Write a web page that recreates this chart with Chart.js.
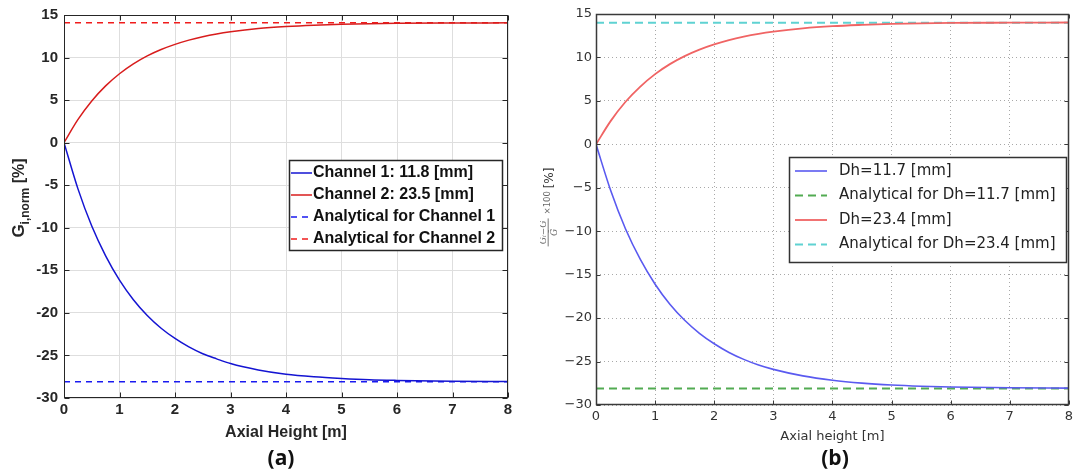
<!DOCTYPE html>
<html lang="en">
<head>
<meta charset="UTF-8" />
<title>Axial mass flux deviation</title>
<script src="https://cdn.jsdelivr.net/npm/chart.js@4.4.1/dist/chart.umd.min.js"></script>
<style>
body { margin: 0; background: #fff; }
#wrap { position: relative; width: 1077px; height: 469px; overflow: hidden; }
#chartA { position: absolute; left: 0; top: 0; }
#chartB { position: absolute; left: 540px; top: 0; }
.tag { position: absolute; top: 443px; font: bold 21px 'Open Sans', sans-serif; color: #111; transform: translateX(-50%); line-height: 28px; }
</style>
</head>
<body>
<div id="wrap">
  <canvas id="chartA" width="540" height="450"></canvas>
  <canvas id="chartB" width="537" height="450"></canvas>
  <div class="tag" style="left:281px">(a)</div>
  <div class="tag" style="left:835px">(b)</div>
</div>

<script>
// axial positions [m]
const heights = [0, 0.25, 0.5, 0.75, 1, 1.25, 1.5, 1.75, 2, 2.25, 2.5, 2.75, 3, 3.5, 4, 4.5, 5, 5.5, 6, 7, 8];

// (a) subchannel results [%]
const channel1 = [0, -5.4, -9.8, -13.3, -16.15, -18.45, -20.3, -21.8, -23.0, -24.0, -24.8, -25.4, -25.95, -26.7, -27.2, -27.5, -27.7, -27.85, -27.93, -28.03, -28.07];
const channel2 = [0, 2.7, 4.9, 6.67, 8.1, 9.26, 10.2, 10.95, 11.55, 12.05, 12.45, 12.77, 13.02, 13.4, 13.64, 13.8, 13.9, 13.97, 14.02, 14.06, 14.08];
const analyticalCh1 = -28.1;
const analyticalCh2 = 14.1;

// (b) hydraulic diameter results [%]
const dh117 = [0, -5.35, -9.75, -13.25, -16.1, -18.4, -20.25, -21.75, -22.95, -23.95, -24.75, -25.4, -25.9, -26.65, -27.15, -27.48, -27.7, -27.84, -27.93, -28.02, -28.06];
const dh234 = [0, 2.7, 4.9, 6.65, 8.08, 9.23, 10.15, 10.9, 11.5, 12.0, 12.4, 12.72, 12.97, 13.35, 13.6, 13.75, 13.86, 13.93, 13.97, 14.0, 14.02];
const analyticalDh117 = -28.1;
const analyticalDh234 = 14.0;

const xRange = [0, 8];
const yRange = [-30, 15];

const pts = (xs, ys) => xs.map((x, i) => ({ x, y: ys[i] }));
const flat = v => pts(xRange, [v, v]);

// box round the plot area with inward tick marks on every side
function frame(color, width, tickLen) {
  return {
    id: 'frame',
    afterDatasetsDraw(chart) {
      const { ctx, chartArea: a, scales: { x, y } } = chart;
      const l = Math.round(a.left) + 0.5, r = Math.round(a.right) - 0.5;
      const t = Math.round(a.top) + 0.5, b = Math.round(a.bottom) - 0.5;
      ctx.save();
      ctx.strokeStyle = color;
      ctx.lineWidth = 1;
      ctx.beginPath();
      x.ticks.forEach(tk => {
        const px = Math.round(x.getPixelForValue(tk.value)) + 0.5;
        ctx.moveTo(px, t); ctx.lineTo(px, t + tickLen);
        ctx.moveTo(px, b); ctx.lineTo(px, b - tickLen);
      });
      y.ticks.forEach(tk => {
        const py = Math.round(y.getPixelForValue(tk.value)) + 0.5;
        ctx.moveTo(l, py); ctx.lineTo(l + tickLen, py);
        ctx.moveTo(r, py); ctx.lineTo(r - tickLen, py);
      });
      ctx.stroke();
      ctx.lineWidth = width;
      ctx.strokeRect(l, t, r - l, b - t);
      ctx.restore();
    }
  };
}

// legend drawn inside the axes
function boxLegend(o) {
  return {
    id: 'boxLegend',
    afterDraw(chart) {
      const ctx = chart.ctx;
      ctx.save();
      ctx.fillStyle = '#fff';
      ctx.fillRect(o.x, o.y, o.w, o.h);
      ctx.strokeStyle = o.border;
      ctx.lineWidth = o.borderWidth;
      ctx.strokeRect(o.x + 0.5, o.y + 0.5, o.w, o.h);
      ctx.font = o.font;
      ctx.textBaseline = 'middle';
      chart.data.datasets.forEach((ds, i) => {
        const cy = o.y + o.first + i * o.gap;
        ctx.strokeStyle = ds.borderColor;
        ctx.lineWidth = ds.borderWidth;
        ctx.setLineDash(ds.borderDash || []);
        ctx.beginPath();
        ctx.moveTo(o.x + o.s0, cy);
        ctx.lineTo(o.x + o.s1, cy);
        ctx.stroke();
        ctx.setLineDash([]);
        ctx.fillStyle = o.color;
        ctx.fillText(ds.label, o.x + o.tx, cy);
      });
      ctx.restore();
    }
  };
}

// rotated y title made of runs: [text, font, baseline shift, colour, width?, painter?]
function runsTitle(cx, cy, runs) {
  return {
    id: 'runsTitle',
    afterDraw(chart) {
      const ctx = chart.ctx;
      ctx.save();
      ctx.translate(cx, cy);
      ctx.rotate(-Math.PI / 2);
      ctx.textBaseline = 'alphabetic';
      let total = 0;
      runs.forEach(r => { ctx.font = r[1]; total += r[4] !== undefined ? r[4] : ctx.measureText(r[0]).width; });
      let pos = -total / 2;
      runs.forEach(r => {
        ctx.font = r[1];
        ctx.fillStyle = r[3];
        const w = r[4] !== undefined ? r[4] : ctx.measureText(r[0]).width;
        if (r[5]) r[5](ctx, pos, w);
        else ctx.fillText(r[0], pos, r[2]);
        pos += w;
      });
      ctx.restore();
    }
  };
}

// ---------- (a) ----------
const fontA = "'Liberation Sans', Arial, sans-serif";
const inkA = '#262626';

new Chart(document.getElementById('chartA'), {
  type: 'line',
  data: {
    datasets: [
      { label: 'Channel 1: 11.8 [mm]', data: pts(heights, channel1), borderColor: '#1414d2', borderWidth: 1.5 },
      { label: 'Channel 2: 23.5 [mm]', data: pts(heights, channel2), borderColor: '#d81c1c', borderWidth: 1.5 },
      { label: 'Analytical for Channel 1', data: flat(analyticalCh1), borderColor: '#1a1af0', borderWidth: 1.5, borderDash: [6, 5] },
      { label: 'Analytical for Channel 2', data: flat(analyticalCh2), borderColor: '#f01c1c', borderWidth: 1.5, borderDash: [6, 5] }
    ]
  },
  options: {
    responsive: false,
    animation: false,
    events: [],
    parsing: false,
    elements: { point: { radius: 0 }, line: { cubicInterpolationMode: 'monotone' } },
    layout: { padding: { left: 0, right: 32, top: 14, bottom: 0 } },
    plugins: { legend: { display: false }, tooltip: { enabled: false } },
    scales: {
      x: {
        type: 'linear', min: xRange[0], max: xRange[1],
        afterFit(s) { s.height = 52; },
        grid: { color: '#dedede', drawTicks: false },
        border: { display: false },
        ticks: { stepSize: 1, padding: 3, color: inkA, font: { family: fontA, size: 15, weight: 'bold' } },
        title: { display: true, text: 'Axial Height [m]', color: inkA, padding: { top: 0, bottom: 8 }, font: { family: fontA, size: 16, weight: 'bold' } }
      },
      y: {
        min: yRange[0], max: yRange[1],
        afterFit(s) { s.width = 64; },
        grid: { color: '#dedede', drawTicks: false },
        border: { display: false },
        ticks: { stepSize: 5, padding: 6, color: inkA, font: { family: fontA, size: 15, weight: 'bold' } }
      }
    }
  },
  plugins: [
    frame(inkA, 1, 5),
    boxLegend({ x: 289, y: 160, w: 213, h: 90, first: 13, gap: 22, s0: 2, s1: 23, tx: 24,
      border: inkA, borderWidth: 1.5, color: '#111', font: `bold 16px ${fontA}` }),
    runsTitle(24, 198, [
      ['G', `bold 17px ${fontA}`, 0, inkA],
      ['i,norm', `bold 12px ${fontA}`, 5, inkA],
      [' [%]', `bold 16px ${fontA}`, 0, inkA]
    ])
  ]
});

// ---------- (b) ----------
const fontB = "'DejaVu Sans', sans-serif";
const inkB = '#333';
const minus = v => (v < 0 ? '\u2212' + Math.abs(v) : String(v));

new Chart(document.getElementById('chartB'), {
  type: 'line',
  data: {
    datasets: [
      { label: 'Dh=11.7 [mm]', data: pts(heights, dh117), borderColor: '#5a5af0', borderWidth: 1.6 },
      { label: 'Analytical for Dh=11.7 [mm]', data: flat(analyticalDh117), borderColor: '#52ab52', borderWidth: 2, borderDash: [8, 5] },
      { label: 'Dh=23.4 [mm]', data: pts(heights, dh234), borderColor: '#f06464', borderWidth: 1.8 },
      { label: 'Analytical for Dh=23.4 [mm]', data: flat(analyticalDh234), borderColor: '#5fd2d2', borderWidth: 2, borderDash: [8, 5] }
    ]
  },
  options: {
    responsive: false,
    animation: false,
    events: [],
    parsing: false,
    elements: { point: { radius: 0 }, line: { cubicInterpolationMode: 'monotone' } },
    layout: { padding: { left: 0, right: 5, top: 14, bottom: 0 } },
    plugins: { legend: { display: false }, tooltip: { enabled: false } },
    scales: {
      x: {
        type: 'linear', min: xRange[0], max: xRange[1],
        afterFit(s) { s.height = 45; },
        grid: { color: '#a8a8a8', drawTicks: false },
        border: { display: false, dash: [1, 3] },
        ticks: { stepSize: 1, padding: 4, color: inkB, font: { family: fontB, size: 13 } },
        title: { display: true, text: 'Axial height [m]', color: inkB, padding: { top: 0, bottom: 6 }, font: { family: fontB, size: 13 } }
      },
      y: {
        min: yRange[0], max: yRange[1],
        afterFit(s) { s.width = 56; },
        grid: { color: '#a8a8a8', drawTicks: false },
        border: { display: false, dash: [1, 3] },
        ticks: { stepSize: 5, padding: 4, color: inkB, callback: minus, font: { family: fontB, size: 13 } }
      }
    }
  },
  plugins: [
    frame('#3a3a3a', 1.5, 4),
    boxLegend({ x: 249, y: 157, w: 277, h: 105, first: 14, gap: 24.5, s0: 6, s1: 38, tx: 50,
      border: '#333', borderWidth: 1.5, color: '#222', font: `15px ${fontB}` }),
    runsTitle(13, 209, [
      ['', '9px serif', 0, '#6a6a6a', 36, (ctx, pos, w) => {
        // stacked fraction (Gi - G) / G
        ctx.font = "italic 9px 'DejaVu Serif', serif";
        ctx.textAlign = 'center';
        ctx.fillText('G\u1D62\u2212\u1E20', pos + w / 2, -7);
        ctx.fillText('\u1E20', pos + w / 2, 4);
        ctx.fillRect(pos + 4, -5.3, w - 8, 0.9);
        ctx.textAlign = 'left';
      }],
      ['\u00D7100 ', `8.5px ${fontB}`, -3, '#6a6a6a'],
      ['[%]', `12px ${fontB}`, 0, '#333']
    ])
  ]
});
</script>
</body>
</html>
